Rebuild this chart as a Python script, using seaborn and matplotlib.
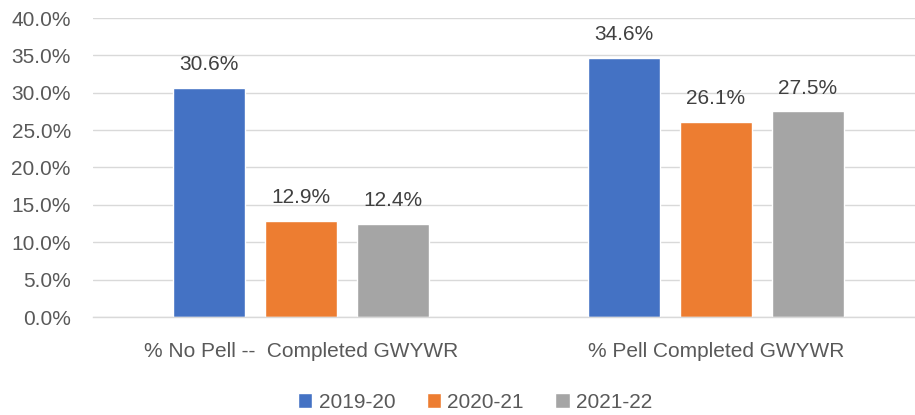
import matplotlib
matplotlib.use("Agg")
import matplotlib.pyplot as plt
import seaborn as sns
import pandas as pd
from matplotlib.ticker import PercentFormatter, MultipleLocator

categories = ["% No Pell --  Completed GWYWR", "% Pell Completed GWYWR"]
years = ["2019-20", "2020-21", "2021-22"]
v_2019_20 = [30.6, 34.6]
v_2020_21 = [12.9, 26.1]
v_2021_22 = [12.4, 27.5]
colors = ["#4472C4", "#ED7D31", "#A5A5A5"]

rows = []
for yr, vals in zip(years, [v_2019_20, v_2020_21, v_2021_22]):
    for c, v in zip(categories, vals):
        rows.append({"category": c, "year": yr, "value": v})
df = pd.DataFrame(rows)

sns.set_theme(style="white")
plt.rcParams["font.family"] = ["Liberation Sans", "DejaVu Sans"]
text_color = "#595959"
fs = 15

fig = plt.figure(figsize=(9.15, 4.15), dpi=100)
ax = fig.add_axes([93/915, 1-317/415, 1-93/915, (317-18)/415])

sns.barplot(data=df, x="category", y="value", hue="year", order=categories,
            hue_order=years, palette=colors, width=0.665, gap=0.217,
            saturation=1, ax=ax, legend=True)

ax.set_ylim(0, 40)
ax.set_xlim(-0.501, 1.48)
ax.yaxis.set_major_locator(MultipleLocator(5))
ax.yaxis.set_major_formatter(PercentFormatter(decimals=1))
ax.grid(axis="y", color="#D9D9D9", linewidth=1)
ax.set_axisbelow(True)
for s in ["top", "right", "left"]:
    ax.spines[s].set_visible(False)
ax.spines["bottom"].set_color("#D9D9D9")
ax.spines["bottom"].set_linewidth(1)
ax.set_xlabel("")
ax.set_ylabel("")
ax.tick_params(axis="y", length=0, pad=16, labelsize=fs, labelcolor=text_color)
ax.tick_params(axis="x", length=0, pad=18, labelsize=fs, labelcolor=text_color)

for cont in ax.containers:
    ax.bar_label(cont, labels=[f"{b.get_height():.1f}%" for b in cont],
                 padding=10, fontsize=fs, color="#404040")

h, l = ax.get_legend_handles_labels()
ax.get_legend().remove()
fig.legend(h, l, loc="center", bbox_to_anchor=(475/915, 1-402/415), ncol=3,
           frameon=False, fontsize=fs, labelcolor=text_color,
           handlelength=0.7, handleheight=0.7, handletextpad=0.3,
           columnspacing=1.5)

fig.savefig("out.png", dpi=100)
